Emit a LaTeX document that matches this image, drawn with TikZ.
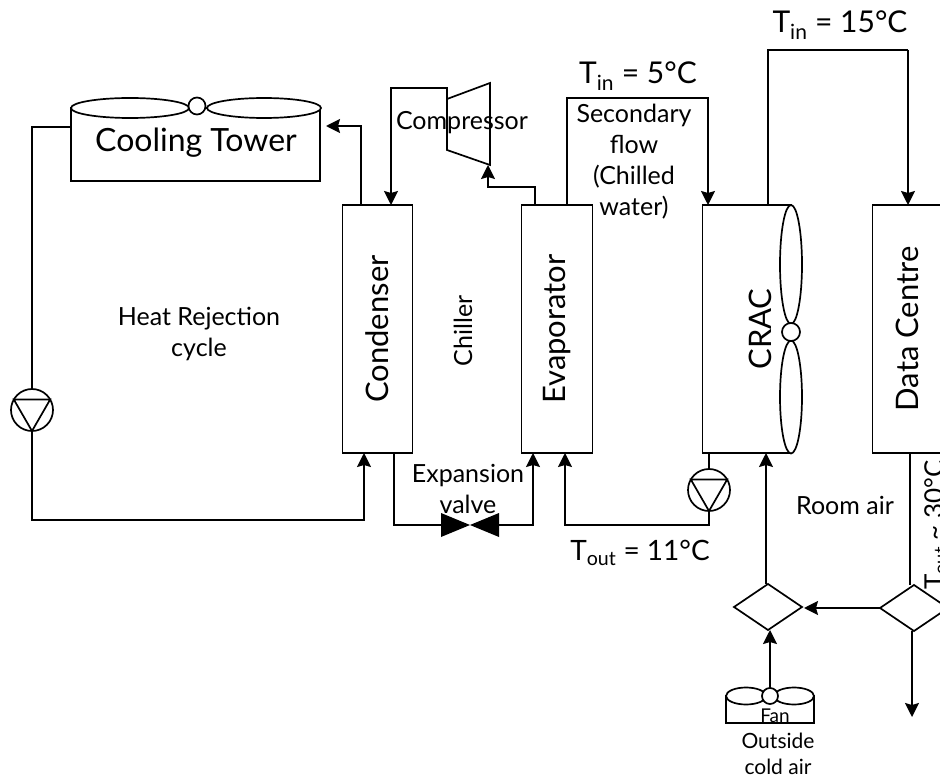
\documentclass[tikz,border=0pt]{standalone}
\usepackage{fontspec}
\setmainfont{Lato}
\usetikzlibrary{arrows.meta,positioning,shapes.geometric}
\tikzset{
	pipe/.style={line width=1.7pt},
	flow/.style={pipe,-{Stealth[length=14pt,width=14pt,inset=2pt]}},
	unit/.style={draw,line width=1.7pt,rectangle,minimum width=70pt,minimum height=248pt,inner sep=0pt,outer sep=0pt},
	blade/.style={draw,line width=1.7pt,fill=white,ellipse,inner sep=0pt,outer sep=0pt},
	hub/.style={draw,line width=1.7pt,fill=white,circle,inner sep=0pt,outer sep=0pt,minimum size=#1},
	pump/.style={draw,line width=1.7pt,fill=white,circle,inner sep=0pt,outer sep=0pt,minimum size=42pt},
	mixer/.style={draw,line width=1.7pt,diamond,aspect=1.5,inner sep=0pt,outer sep=0pt,minimum width=68pt,minimum height=46pt},
	biglabel/.style={font=\fontsize{30}{36}\selectfont,inner sep=0pt},
	midlabel/.style={font=\fontsize{31}{36}\selectfont,inner sep=0pt},
	smalllabel/.style={font=\fontsize{25}{31}\selectfont,align=center,inner sep=0pt},
}
\begin{document}
\begin{tikzpicture}[x=1pt,y=-1pt]
	\useasboundingbox (0,0) rectangle (940,778);
	\clip (0,0) rectangle (940,778);
	% cooling tower
	\node[unit,minimum width=249pt,minimum height=73pt] (tower) at (195.5,144.5) {};
	\node[blade,minimum width=118pt,minimum height=20pt] (towerbladea) at (130,108) {};
	\node[blade,minimum width=114pt,minimum height=20pt] (towerbladeb) at (264,108) {};
	\node[hub=17pt] (towerhub) at (197,106) {};
	\node[font=\fontsize{32}{36}\selectfont,inner sep=0pt] (towerlabel) at (196,143) {Cooling Tower};
	% chiller
	\node[unit] (condenser) at (377.5,329) {};
	\node[unit,minimum width=71pt] [right=109pt of condenser] (evaporator) {};
	\node[unit,minimum width=89pt] [right=110pt of evaporator] (crac) {};
	\node[unit,minimum width=76pt] [right=81pt of crac] (centre) {};
	\node[midlabel,rotate=90] (condenserlabel) at (condenser.center) {Condenser};
	\node[midlabel,rotate=90] (evaporatorlabel) at (evaporator.center) {Evaporator};
	\node[midlabel,rotate=90] (craclabel) at ([xshift=13pt]crac.center) {CRAC};
	\node[midlabel,rotate=90] (centrelabel) at ([xshift=-3pt]centre.center) {Data Centre};
	\node[blade,minimum width=22pt,minimum height=119pt] (cracbladea) at (791,264.5) {};
	\node[blade,minimum width=22pt,minimum height=113pt] (cracbladeb) at (791,397) {};
	\node[hub=18pt] (crachub) at (791,332) {};
	% compressor
	\coordinate (compa) at (447,99);
	\coordinate (compb) at (490,83);
	\coordinate (compc) at (490,165);
	\coordinate (compd) at (447,150);
	\draw[pipe] (compa) -- (compb) -- (compc) -- (compd) -- cycle;
	\node[smalllabel] (complabel) at (462,123) {Compressor};
	% pumps and valve
	\node[pump] (pumpa) at (32,410) {};
	\node[pump] (pumpb) at (709,490) {};
	\foreach \p in {pumpa,pumpb}
		\draw[pipe] (\p.150) -- (\p.30) -- (\p.south) -- cycle;
	\node[minimum width=58pt,minimum height=24pt,inner sep=0pt,outer sep=0pt] (valve) at (470,525) {};
	% air side
	\node[mixer] (mixera) at (768,607) {};
	\node[mixer] (mixerb) at (914,608) {};
	\node[unit,minimum width=88pt,minimum height=27pt] (fan) at (770,709.5) {};
	\node[blade,minimum width=40pt,minimum height=17pt] (fanbladea) at (746,696) {};
	\node[blade,minimum width=40pt,minimum height=17pt] (fanbladeb) at (794,696) {};
	\node[hub=16pt] (fanhub) at (770,696) {};
	\coordinate (sink) at (912,717);
	% condenser water loop
	\draw[pipe] (tower.west |- 0,127) -| (pumpa.north);
	\draw[flow] (pumpa.south) |- (364,520) -- ([xshift=-13.5pt]condenser.south);
	\draw[flow] ([xshift=-16.5pt]condenser.north) |- ([xshift=6pt,yshift=18.5pt]tower.east);
	% refrigerant
	\draw[flow] (compa) -- (447,88) -| ([xshift=13.5pt]condenser.north);
	\draw[flow] ([xshift=-22pt]evaporator.north) |- (488,187) -- (488,165);
	\draw[pipe] ([xshift=16.5pt]condenser.south) |- (valve.west);
	\draw[flow] (valve.east) -| ([xshift=-24pt]evaporator.south);
	\fill (valve.north west) -- (valve.south east) -- (valve.north east) -- (valve.south west) -- cycle;
	% chilled water
	\draw[flow] ([xshift=10pt]evaporator.north) |- (708,98) -- (708,205);
	\draw[flow] (pumpb.south) |- (565,525) -- ([xshift=8pt]evaporator.south);
	\draw[pipe] (pumpb.north) -- (pumpb.north |- crac.south);
	% air
	\draw[flow] (766,584) -- (766,453);
	\draw[pipe] (mixera.north |- crac.north) |- (908,50);
	\draw[flow] (908,50) -- (908,205);
	\draw[pipe] (910,585) -- (910,453);
	\draw[flow] (mixerb.west) -- ([xshift=2pt]mixerb.west -| mixera.east);
	\draw[flow] (912,631) -- (sink);
	\draw[flow] (fanhub.north) -- (fanhub.north |- mixera.south);
	% labels
	\node[biglabel] (tinb) at (840,25) {T\textsubscript{in} = 15°C};
	\node[biglabel] (tina) at (638,76) {T\textsubscript{in} = 5°C};
	\node[font=\fontsize{28}{32}\selectfont,inner sep=0pt] (tout) at (640,553) {T\textsubscript{out} = 11°C};
	\node[rotate=90,font=\fontsize{26}{30}\selectfont,inner sep=0pt] (toutb) at (936,525) {T\textsubscript{out} \textasciitilde{} 30°C};
	\node[smalllabel] (secondary) at (634,162) {Secondary\\flow\\(Chilled\\water)};
	\node[smalllabel] (heat) at (199,334) {Heat Rejection\\cycle};
	\node[smalllabel,rotate=90] (chiller) at (463,331) {Chiller};
	\node[smalllabel] (expansion) at (468,489) {Expansion\\valve};
	\node[smalllabel] (room) at (845,505) {Room air};
	\node[font=\fontsize{19}{22}\selectfont,inner sep=0pt] (fanlabel) at (775,716) {Fan};
	\node[smalllabel,font=\fontsize{21}{26}\selectfont] (outside) at (778,754) {Outside\\cold air};
\end{tikzpicture}
\end{document}
